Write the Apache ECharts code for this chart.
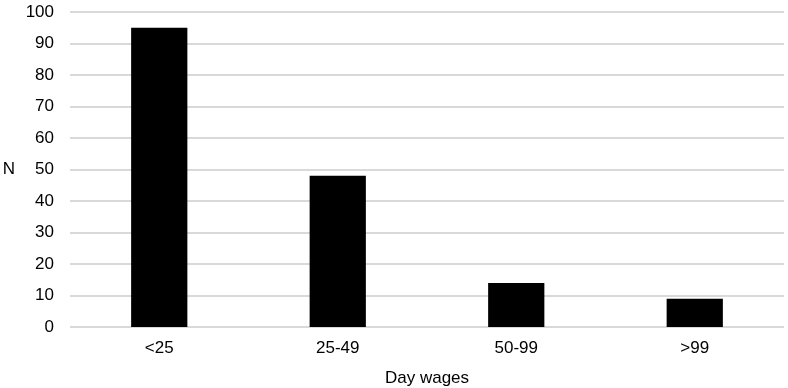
<!DOCTYPE html>
<html><head><meta charset="utf-8">
<script src="https://cdn.jsdelivr.net/npm/echarts@6/dist/echarts.min.js"></script>
<style>html,body{margin:0;padding:0;background:#fff}#c{width:788px;height:388px}</style>
</head><body><div id="c"></div>
<script>
const categories = ['<25', '25-49', '50-99', '>99'];
const values = [95, 48, 14, 9];
const yTicks = {min: 0, max: 100, interval: 10};

const chart = echarts.init(document.getElementById('c'), null, {renderer: 'canvas'});
const font = 'Liberation Sans, Arial, sans-serif';
chart.setOption({
  animation: false,
  grid: {left: 70, right: 4, top: 12, bottom: 61, containLabel: false, outerBoundsMode: 'none'},
  xAxis: {
    type: 'category', data: categories,
    axisLine: {show: false}, axisTick: {show: false},
    axisLabel: {color: '#000', fontFamily: font, fontSize: 17, margin: 13},
    name: 'Day wages', nameLocation: 'middle', nameGap: 43,
    nameTextStyle: {color: '#000', fontFamily: font, fontSize: 17}
  },
  yAxis: {
    type: 'value', min: yTicks.min, max: yTicks.max, interval: yTicks.interval,
    axisLine: {show: false}, axisTick: {show: false},
    axisLabel: {color: '#000', fontFamily: font, fontSize: 17, margin: 16},
    splitLine: {lineStyle: {color: '#d9d9d9', width: 2}},
    name: 'N', nameLocation: 'middle', nameGap: 55, nameRotate: 0,
    nameTextStyle: {color: '#000', fontFamily: font, fontSize: 17}
  },
  series: [{
    type: 'bar', data: values, barWidth: '31.5%',
    itemStyle: {color: '#000'}
  }]
});
</script></body></html>
